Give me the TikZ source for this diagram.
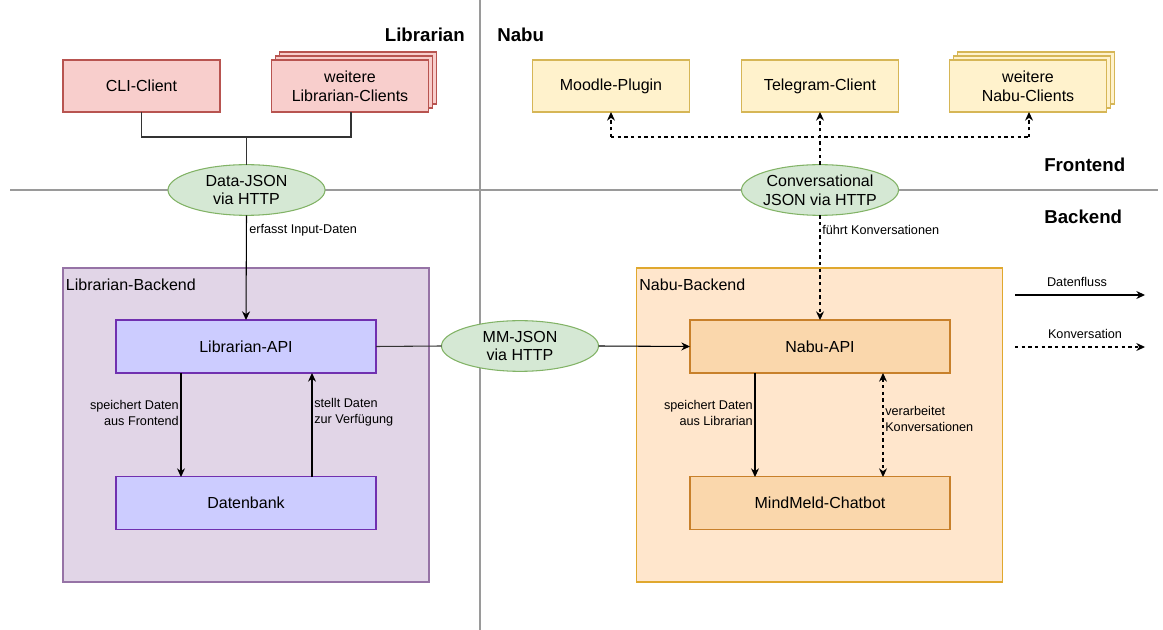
\documentclass[tikz,border=0pt]{standalone}
\usepackage{fontspec}
\setmainfont{Liberation Sans}
\usetikzlibrary{arrows.meta,shapes.geometric}

\definecolor{libfill}{HTML}{F8CECC}
\definecolor{libdraw}{HTML}{B85450}
\definecolor{nabufill}{HTML}{FFF2CC}
\definecolor{nabudraw}{HTML}{D6B656}
\definecolor{jsonfill}{HTML}{D5E8D4}
\definecolor{jsondraw}{HTML}{82B366}
\definecolor{lbefill}{HTML}{E1D5E7}
\definecolor{lbedraw}{HTML}{9673A6}
\definecolor{lapifill}{HTML}{CCCCFF}
\definecolor{lapidraw}{HTML}{7030B0}
\definecolor{nbefill}{HTML}{FFE6CC}
\definecolor{nbedraw}{HTML}{E0A82E}
\definecolor{napifill}{HTML}{FAD7AC}
\definecolor{napidraw}{HTML}{C8802A}
\definecolor{linegray}{HTML}{333333}
\definecolor{divgray}{HTML}{9A9A9A}

\begin{document}
\begin{tikzpicture}[x=0.75pt,y=-0.75pt]
\useasboundingbox (0,0) rectangle (1163,630);

\tikzstyle{libclient} = [rectangle,draw=libdraw,fill=libfill,line width=0.8pt,minimum width=117.75pt,minimum height=39pt,inner sep=0pt,outer sep=0pt,align=center,font=\fontsize{12}{14}\selectfont];
\tikzstyle{nabuclient} = [rectangle,draw=nabudraw,fill=nabufill,line width=0.8pt,minimum width=117.75pt,minimum height=39pt,inner sep=0pt,outer sep=0pt,align=center,font=\fontsize{12}{14}\selectfont];
\tikzstyle{json} = [ellipse,draw=jsondraw,fill=jsonfill,line width=0.8pt,minimum width=117.75pt,minimum height=38pt,inner sep=0pt,outer sep=0pt,align=center,font=\fontsize{12}{14}\selectfont];
\tikzstyle{container} = [rectangle,line width=0.8pt,minimum width=274.5pt,minimum height=235.5pt,inner sep=0pt,outer sep=0pt];
\tikzstyle{api} = [rectangle,line width=0.8pt,minimum width=195pt,minimum height=39.75pt,inner sep=0pt,outer sep=0pt,align=center,font=\fontsize{12}{14}\selectfont];
\tikzstyle{header} = [inner sep=0pt,font=\fontsize{14}{16}\selectfont\bfseries];
\tikzstyle{title} = [inner sep=0pt,anchor=west,font=\fontsize{12}{14}\selectfont];
\tikzstyle{lbl} = [inner sep=0pt,font=\fontsize{9.5}{12}\selectfont];
\tikzstyle{flow} = [-{Stealth[length=6.5pt,width=6pt]},line width=0.8pt,draw=black];
\tikzstyle{conv} = [-{Stealth[length=6.5pt,width=6pt]},line width=0.8pt,draw=black,dash pattern=on 2.5pt off 2.5pt];
\tikzstyle{wire} = [-,line width=0.8pt,draw=linegray];

% divider lines
\coordinate (vtop) at (480,0);
\coordinate (vbot) at (480,630);
\coordinate (hleft) at (10,190);
\coordinate (hright) at (1158,190);
\path (vtop) edge[-,draw=divgray,line width=0.8pt] (vbot);
\path (hleft) edge[-,draw=divgray,line width=0.8pt] (hright);

% headers
\node[header,anchor=east] at (465,35) (hlib) {Librarian};
\node[header,anchor=west] at (497,35) (hnabu) {Nabu};
\node[header,anchor=west] at (1044,165) (hfront) {Frontend};
\node[header,anchor=west] at (1044,217) (hback) {Backend};

% Librarian clients
\node[libclient] at (141.5,86) (cli) {CLI-Client};
\node[libclient] at (358,78) (lc3) {};
\node[libclient] at (354,82) (lc2) {};
\node[libclient] at (350,86) (lc1) {weitere\\Librarian-Clients};

% Nabu clients
\node[nabuclient] at (611,86) (moodle) {Moodle-Plugin};
\node[nabuclient] at (820,86) (telegram) {Telegram-Client};
\node[nabuclient] at (1036,78) (nc3) {};
\node[nabuclient] at (1032,82) (nc2) {};
\node[nabuclient] at (1028,86) (nc1) {weitere\\Nabu-Clients};

% JSON ellipses
\node[json] at (246.5,190) (datajson) {Data-JSON\\via HTTP};
\node[json,inner xsep=-7pt] at (820,190) (convjson) {Conversational\\JSON via HTTP};

% backend containers
\node[container,draw=lbedraw,fill=lbefill] at (246,425) (lbe) {};
\node[title] at (lbe.north west) [xshift=2pt,yshift=-12.5pt] (lbetitle) {Librarian-Backend};
\node[container,draw=nbedraw,fill=nbefill] at (819.5,425) (nbe) {};
\node[title] at (nbe.north west) [xshift=2pt,yshift=-12.5pt] (nbetitle) {Nabu-Backend};

\node[api,draw=lapidraw,fill=lapifill] at (246,346.5) (libapi) {Librarian-API};
\node[api,draw=lapidraw,fill=lapifill] at (246,503) (db) {Datenbank};
\node[api,draw=napidraw,fill=napifill] at (820,346.5) (nabuapi) {Nabu-API};
\node[api,draw=napidraw,fill=napifill] at (820,503) (chatbot) {MindMeld-Chatbot};

\node[json] at (520,346) (mmjson) {MM-JSON\\via HTTP};

% librarian clients to Data-JSON
\coordinate (cliend) at (141.5,137);
\coordinate (lcend) at (351,137);
\coordinate (ljoin) at (246.5,137);
\draw[wire] (cli.south) -- (cliend) -- (lcend) -- (351,112);
\path (ljoin) edge[wire] (datajson.north);

% Data-JSON to Librarian-API
\path (datajson.south) edge[flow] (libapi.north);
\node[lbl,anchor=west] at (249,230) (erfasst) {erfasst Input-Daten};

% inside Librarian-Backend
\path (181,373) edge[flow] (181,477);
\path (312,477) edge[flow] (312,373);
\node[lbl,anchor=east,align=right] at (179,413) (speichlib) {speichert Daten\\aus Frontend};
\node[lbl,anchor=west,align=left] at (314,412) (stellt) {stellt Daten\\zur Verfügung};

% Librarian-API to Nabu-API via MM-JSON
\path (libapi.east) edge[wire] (mmjson.west);
\path (mmjson.east) edge[flow] (nabuapi.west);

% conversations
\coordinate (cmoodle) at (611,137);
\coordinate (cnabu) at (1029,137);
\path (convjson.north) edge[conv] (telegram.south);
\draw[conv,-] (cmoodle) -- (cnabu);
\path (cmoodle) edge[conv] (moodle.south);
\path (cnabu) edge[conv] (1029,112);
\path (convjson.south) edge[conv] (nabuapi.north);
\node[lbl,anchor=west] at (822,230) (fuehrt) {führt Konversationen};

% inside Nabu-Backend
\path (755,373) edge[flow] (755,477);
\node[lbl,anchor=east,align=right] at (753,413) (speichnabu) {speichert Daten\\aus Librarian};
\path (883,373) edge[conv,{Stealth[length=6.5pt,width=6pt]}-{Stealth[length=6.5pt,width=6pt]}] (883,477);
\node[lbl,anchor=west,align=left] at (885,419) (verarb) {verarbeitet\\Konversationen};

% legend
\coordinate (dfa) at (1015,295);
\coordinate (dfb) at (1145,295);
\coordinate (kva) at (1015,347);
\coordinate (kvb) at (1145,347);
\path (dfa) edge[flow] (dfb);
\path (kva) edge[conv] (kvb);
\node[lbl] at (1077,282) (ldf) {Datenfluss};
\node[lbl] at (1085,334) (lkv) {Konversation};

\end{tikzpicture}
\end{document}
